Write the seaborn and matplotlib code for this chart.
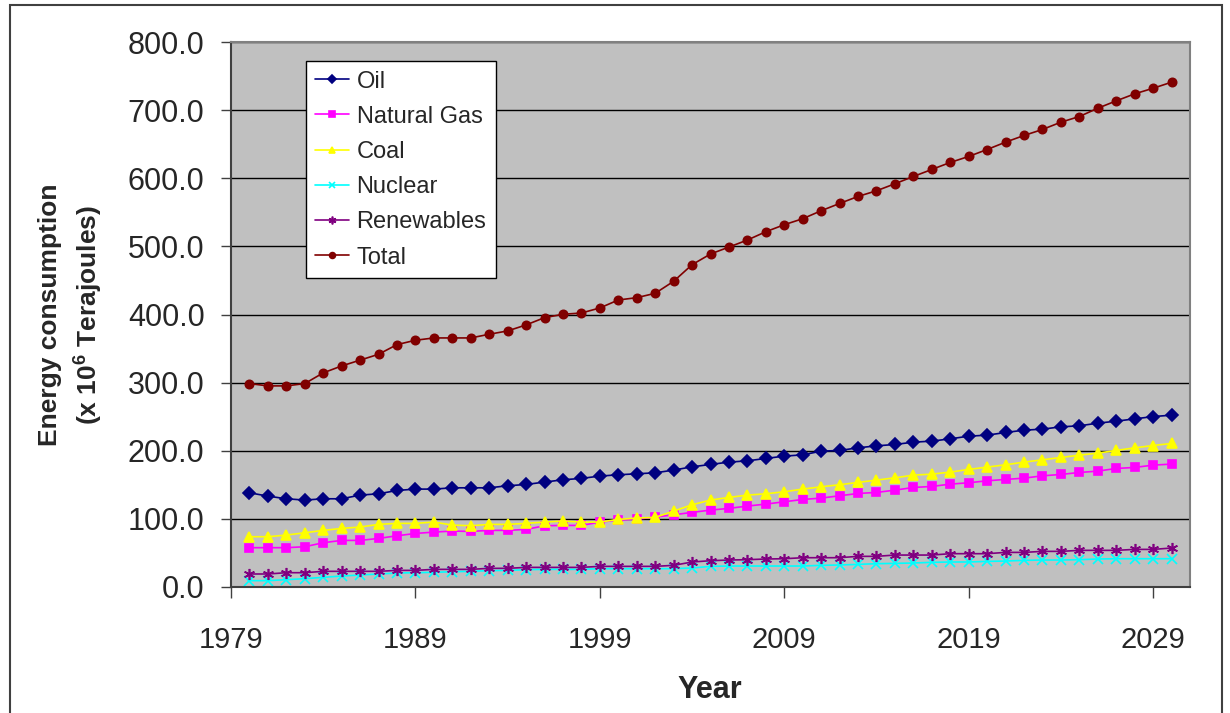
import matplotlib
matplotlib.use("Agg")
import matplotlib.pyplot as plt
import seaborn as sns
import numpy as np
import pandas as pd
from matplotlib.patches import Rectangle

years = list(range(1980, 2031))

oil = [138.3, 133.4, 129.5, 127.6, 129.5, 129.5, 134.9, 136.8, 141.7, 143.7,
       143.7, 145.6, 145.6, 145.6, 148.6, 150.5, 154.0, 157.4, 159.4, 162.8,
       164.7, 166.2, 167.6, 171.6, 176.4, 179.9, 183.3, 185.2, 188.7, 192.1,
       194.0, 199.4, 200.4, 204.3, 207.2, 209.2, 212.6, 214.1, 217.5, 221.4,
       222.9, 226.8, 230.2, 231.7, 235.1, 236.6, 240.5, 243.4, 246.8, 250.2,
       252.2]
gas = [57.7, 57.7, 57.7, 59.1, 65.0, 68.4, 68.4, 71.3, 75.2, 78.6,
       80.6, 82.1, 81.6, 83.1, 83.1, 84.5, 89.9, 90.4, 90.4, 95.3,
       98.2, 99.7, 102.6, 106.0, 109.5, 112.9, 115.4, 118.8, 121.7, 125.1,
       128.5, 130.5, 133.9, 137.3, 138.8, 142.2, 146.1, 147.6, 151.0, 153.0,
       155.9, 157.9, 159.8, 163.2, 165.2, 168.1, 170.1, 174.0, 175.5, 178.9,
       180.4]
coal = [73.8, 73.8, 76.2, 79.6, 83.1, 86.0, 88.0, 91.9, 93.4, 93.4,
        95.3, 90.9, 89.9, 91.9, 91.9, 93.4, 95.3, 96.8, 95.3, 95.3,
        99.2, 101.2, 102.2, 111.4, 120.7, 127.6, 131.5, 134.9, 136.8, 139.8,
        143.7, 147.1, 150.1, 153.5, 156.9, 160.3, 164.2, 165.7, 168.6, 172.6,
        176.0, 179.4, 183.3, 186.7, 190.1, 193.5, 196.5, 200.4, 204.3, 207.7,
        210.7]
nuclear = [9.3, 9.3, 10.8, 12.2, 14.2, 16.1, 17.6, 19.1, 20.5, 21.0,
           21.5, 22.5, 23.0, 24.0, 24.4, 25.4, 25.9, 25.9, 25.9, 26.9,
           26.9, 26.9, 26.9, 26.9, 27.9, 30.3, 30.8, 30.8, 30.8, 30.8,
           30.8, 31.8, 32.3, 33.2, 34.2, 34.7, 35.2, 36.2, 36.7, 36.7,
           37.6, 38.1, 39.1, 39.6, 39.6, 40.1, 41.1, 41.5, 41.5, 41.5,
           41.5]
renewables = [19.1, 19.1, 21.0, 21.0, 23.0, 23.0, 23.0, 23.0, 24.4, 24.4,
              25.9, 25.9, 25.9, 27.4, 27.4, 28.8, 28.8, 28.8, 28.8, 30.3,
              30.3, 30.3, 30.3, 31.8, 36.7, 38.6, 39.6, 40.1, 41.1, 41.5,
              43.0, 43.0, 43.0, 45.0, 45.0, 46.9, 46.9, 46.9, 48.9, 48.9,
              48.9, 50.8, 50.8, 52.3, 52.3, 53.8, 53.8, 53.8, 55.2, 55.2,
              57.2]
total = [298.6, 295.2, 295.2, 298.6, 314.3, 324.5, 333.0, 341.6, 355.8, 362.2,
         365.6, 365.6, 365.6, 371.0, 375.9, 384.7, 395.4, 400.3, 402.2, 409.6,
         421.3, 424.7, 431.1, 448.7, 473.1, 488.8, 499.0, 509.3, 521.5, 531.8,
         540.6, 552.3, 563.0, 573.3, 581.6, 591.9, 602.6, 612.9, 623.2, 632.0,
         642.2, 653.0, 662.8, 671.6, 682.3, 690.6, 702.8, 713.6, 723.9, 732.1,
         741.0]

series = {
    "Oil": (oil, "#000080", "D", 6),
    "Natural Gas": (gas, "#FF00FF", "s", 6),
    "Coal": (coal, "#FFFF00", "^", 7),
    "Nuclear": (nuclear, "#00FFFF", "x", 7),
    "Renewables": (renewables, "#800080", (6, 2, 0), 8),
    "Total": (total, "#800000", "o", 6),
}

sns.set_style("white")
plt.rcParams["font.family"] = ["Liberation Sans", "DejaVu Sans"]
plt.rcParams["mathtext.fontset"] = "custom"
plt.rcParams["mathtext.rm"] = "Liberation Sans:bold"
plt.rcParams["mathtext.bf"] = "Liberation Sans:bold"

fig = plt.figure(figsize=(12.3, 7.13), dpi=100)
ax = fig.add_axes([231 / 1230, 1 - 587 / 713, 959 / 1230, 545 / 713])
ax.set_facecolor("#C0C0C0")

for name, (vals, col, mk, ms) in series.items():
    df = pd.DataFrame({"Year": years, "Value": vals})
    sns.lineplot(data=df, x="Year", y="Value", ax=ax, color=col, marker=mk,
                 markersize=ms, markeredgecolor=col, markerfacecolor=col,
                 markeredgewidth=1.2, linewidth=1.2, label=name)

ax.set_xlim(1979, 2031)
ax.set_ylim(0, 800)
ax.set_xticks(range(1979, 2030, 10))
ax.set_yticks(np.arange(0, 801, 100))
ax.set_yticklabels([f"{v:.1f}" for v in np.arange(0, 801, 100)])
ax.yaxis.grid(True, color="black", linewidth=1)
ax.xaxis.grid(False)
ax.set_axisbelow(True)
ax.tick_params(axis="y", direction="out", length=7, width=1, color="#404040",
               labelsize=22, pad=12, left=True)
ax.tick_params(axis="x", direction="out", length=8, width=1, color="#404040",
               labelsize=21, pad=20, bottom=True)
ax.set_xlabel("")
ax.set_ylabel("")
for s in ["left", "bottom"]:
    ax.spines[s].set_color("#404040")
    ax.spines[s].set_linewidth(1.5)
for s in ["top", "right"]:
    ax.spines[s].set_color("#808080")
    ax.spines[s].set_linewidth(1.5)

leg = ax.legend(loc="upper left", bbox_to_anchor=(0.078, 0.965), fontsize=17,
                frameon=True, fancybox=False, framealpha=1, edgecolor="black",
                handlelength=1.45, handletextpad=0.3, labelspacing=0.56,
                borderpad=0.4, borderaxespad=0, markerscale=0.7)
leg.get_frame().set_linewidth(1)

fig.text(710 / 1230, 1 - 690 / 713, "Year", fontsize=22, fontweight="bold",
         ha="center", va="center")
fig.text(50 / 1230, 1 - 315 / 713, "Energy consumption", fontsize=19,
         fontweight="bold", rotation=90, ha="center", va="center")
fig.text(88 / 1230, 1 - 315 / 713, r"(x 10$^{6}$ Terajoules)", fontsize=19,
         fontweight="bold", rotation=90, ha="center", va="center")

fig.patches.append(Rectangle((10 / 1230, -0.05), 1212 / 1230, 1 - 5 / 713 + 0.05,
                             transform=fig.transFigure, fill=False,
                             edgecolor="#404040", linewidth=1.5))

fig.savefig("out.png", dpi=100, facecolor="white")
